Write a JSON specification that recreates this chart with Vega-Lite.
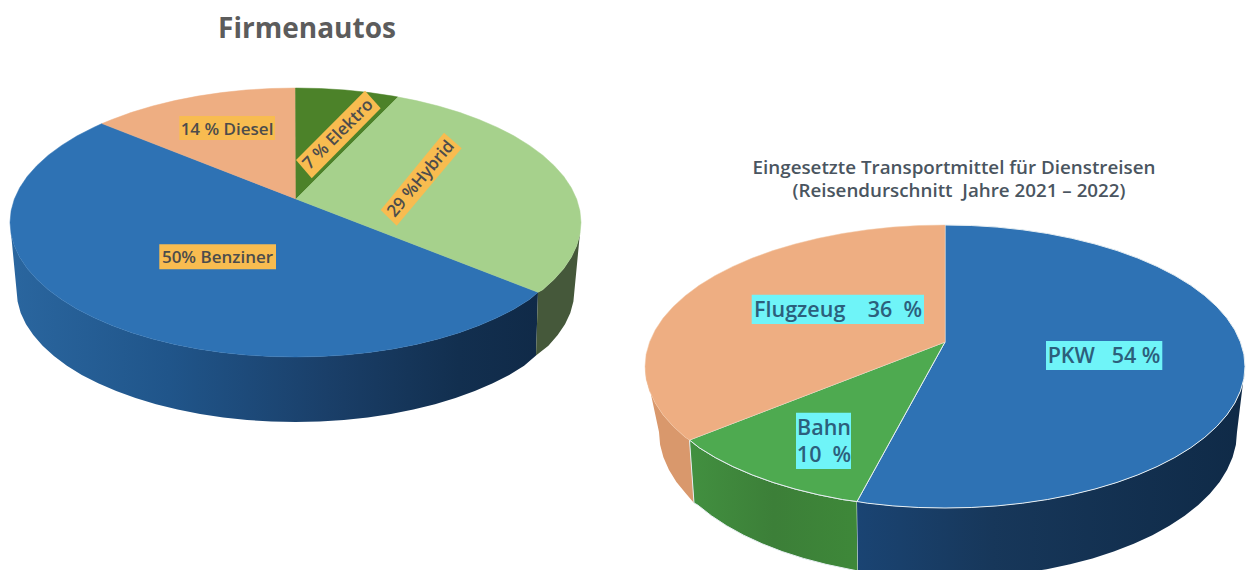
{"$schema":"https://vega.github.io/schema/vega-lite/v6.json","width":1248,"height":570,"padding":0,"autosize":{"type":"fit","contains":"padding"},"background":"white","config":{"view":{"stroke":null}},
"encoding":{"x":{"field":"x","type":"quantitative","scale":{"domain":[0,1248],"nice":false,"zero":false},"axis":null},"y":{"field":"y","type":"quantitative","scale":{"domain":[570,0],"nice":false,"zero":false},"axis":null},"order":{"value":null}},
"layer":[
{"data":{"values":[{"x":538,"y":292.3},{"x":529.4,"y":299.6},{"x":514.2,"y":309},{"x":497.4,"y":317.6},{"x":479,"y":325.5},{"x":459.3,"y":332.7},{"x":438.3,"y":339},{"x":416.2,"y":344.4},{"x":393.1,"y":348.9},{"x":369.4,"y":352.4},{"x":345.1,"y":355},{"x":320.4,"y":356.5},{"x":295.5,"y":357},{"x":270.6,"y":356.5},{"x":245.9,"y":355},{"x":221.6,"y":352.4},{"x":197.9,"y":348.9},{"x":174.8,"y":344.4},{"x":152.7,"y":339},{"x":131.7,"y":332.7},{"x":112,"y":325.5},{"x":93.6,"y":317.6},{"x":76.8,"y":309},{"x":61.6,"y":299.6},{"x":48.3,"y":289.8},{"x":36.8,"y":279.3},{"x":27.2,"y":268.5},{"x":19.7,"y":257.3},{"x":14.3,"y":245.8},{"x":11.1,"y":234.2},{"x":10,"y":222.5},{"x":16.5,"y":290},{"x":17.6,"y":301.5},{"x":20.7,"y":312.9},{"x":26,"y":324.2},{"x":33.3,"y":335.1},{"x":42.6,"y":345.8},{"x":53.9,"y":356},{"x":66.9,"y":365.7},{"x":81.8,"y":374.9},{"x":98.2,"y":383.3},{"x":116.2,"y":391.1},{"x":135.5,"y":398.1},{"x":156,"y":404.3},{"x":177.6,"y":409.6},{"x":200.1,"y":414},{"x":223.3,"y":417.5},{"x":247.1,"y":420},{"x":271.2,"y":421.5},{"x":295.5,"y":422},{"x":319.8,"y":421.5},{"x":343.9,"y":420},{"x":367.7,"y":417.5},{"x":390.9,"y":414},{"x":413.4,"y":409.6},{"x":435,"y":404.3},{"x":455.5,"y":398.1},{"x":474.8,"y":391.1},{"x":492.8,"y":383.3},{"x":509.2,"y":374.9},{"x":524.1,"y":365.7},{"x":536,"y":355.5},{"x":538,"y":292.3}]},
"mark":{"type":"line","clip":true,"strokeWidth":0,"fill":{"gradient":"linear","x1":0,"y1":0,"x2":1,"y2":0,"stops":[{"offset":0,"color":"#2a669f"},{"offset":0.3,"color":"#20558a"},{"offset":0.6,"color":"#1a3f69"},{"offset":0.85,"color":"#122f4f"},{"offset":1,"color":"#102a48"}]}}},
{"data":{"values":[{"x":581,"y":222.5},{"x":579.9,"y":234.2},{"x":576.7,"y":245.8},{"x":571.3,"y":257.3},{"x":563.8,"y":268.5},{"x":554.2,"y":279.3},{"x":542.7,"y":289.8},{"x":538,"y":292.3},{"x":536,"y":355.5},{"x":548.4,"y":345.8},{"x":557.7,"y":335.1},{"x":565,"y":324.2},{"x":570.3,"y":312.9},{"x":573.4,"y":301.5},{"x":574.5,"y":290},{"x":581,"y":222.5}]},
"mark":{"type":"line","clip":true,"strokeWidth":0,"fill":"#45583a"}},
{"data":{"values":[{"x":296,"y":199},{"x":538,"y":292.3},{"x":529.4,"y":299.6},{"x":514.2,"y":309},{"x":497.4,"y":317.6},{"x":479,"y":325.5},{"x":459.3,"y":332.7},{"x":438.3,"y":339},{"x":416.2,"y":344.4},{"x":393.1,"y":348.9},{"x":369.4,"y":352.4},{"x":345.1,"y":355},{"x":320.4,"y":356.5},{"x":295.5,"y":357},{"x":270.6,"y":356.5},{"x":245.9,"y":355},{"x":221.6,"y":352.4},{"x":197.9,"y":348.9},{"x":174.8,"y":344.4},{"x":152.7,"y":339},{"x":131.7,"y":332.7},{"x":112,"y":325.5},{"x":93.6,"y":317.6},{"x":76.8,"y":309},{"x":61.6,"y":299.6},{"x":48.3,"y":289.8},{"x":36.8,"y":279.3},{"x":27.2,"y":268.5},{"x":19.7,"y":257.3},{"x":14.3,"y":245.8},{"x":11.1,"y":234.2},{"x":10,"y":222.5},{"x":11.1,"y":210.8},{"x":14.3,"y":199.2},{"x":19.7,"y":187.7},{"x":27.2,"y":176.5},{"x":36.8,"y":165.7},{"x":48.3,"y":155.2},{"x":61.6,"y":145.4},{"x":76.8,"y":136},{"x":93.6,"y":127.4},{"x":102,"y":123.6},{"x":296,"y":199}]},
"mark":{"type":"line","clip":true,"strokeWidth":0.5,"stroke":"#2e72b4","fill":"#2e72b4"}},
{"data":{"values":[{"x":296,"y":199},{"x":102,"y":123.6},{"x":112,"y":119.5},{"x":131.7,"y":112.3},{"x":152.7,"y":106},{"x":174.8,"y":100.6},{"x":197.9,"y":96.1},{"x":221.6,"y":92.6},{"x":245.9,"y":90},{"x":270.6,"y":88.5},{"x":295.5,"y":88},{"x":296,"y":199}]},
"mark":{"type":"line","clip":true,"strokeWidth":0.5,"stroke":"#eeae82","fill":"#eeae82"}},
{"data":{"values":[{"x":296,"y":199},{"x":295.5,"y":88},{"x":320.4,"y":88.5},{"x":345.1,"y":90},{"x":369.4,"y":92.6},{"x":393.1,"y":96.1},{"x":398,"y":97},{"x":296,"y":199}]},
"mark":{"type":"line","clip":true,"strokeWidth":0.5,"stroke":"#4c8229","fill":"#4c8229"}},
{"data":{"values":[{"x":296,"y":199},{"x":398,"y":97},{"x":416.2,"y":100.6},{"x":438.3,"y":106},{"x":459.3,"y":112.3},{"x":479,"y":119.5},{"x":497.4,"y":127.4},{"x":514.2,"y":136},{"x":529.4,"y":145.4},{"x":542.7,"y":155.2},{"x":554.2,"y":165.7},{"x":563.8,"y":176.5},{"x":571.3,"y":187.7},{"x":576.7,"y":199.2},{"x":579.9,"y":210.8},{"x":581,"y":222.5},{"x":579.9,"y":234.2},{"x":576.7,"y":245.8},{"x":571.3,"y":257.3},{"x":563.8,"y":268.5},{"x":554.2,"y":279.3},{"x":542.7,"y":289.8},{"x":538,"y":292.3},{"x":296,"y":199}]},
"mark":{"type":"line","clip":true,"strokeWidth":0.5,"stroke":"#a6d18c","fill":"#a6d18c"}},
{"data":{"values":[{"x":645,"y":366.5},{"x":646.1,"y":378.8},{"x":649.6,"y":391.1},{"x":655.2,"y":403.1},{"x":663.1,"y":414.9},{"x":673.1,"y":426.3},{"x":685.2,"y":437.3},{"x":689.5,"y":440},{"x":694,"y":503},{"x":686.1,"y":493.7},{"x":676.4,"y":481.9},{"x":668.9,"y":469.8},{"x":663.4,"y":457.3},{"x":660.1,"y":444.7},{"x":659,"y":432},{"x":645,"y":366.5}]},
"mark":{"type":"line","clip":true,"strokeWidth":0,"fill":"#d9986c"}},
{"data":{"values":[{"x":689.5,"y":440},{"x":699.2,"y":447.7},{"x":715.2,"y":457.5},{"x":732.9,"y":466.6},{"x":752.2,"y":474.9},{"x":772.9,"y":482.4},{"x":795,"y":489},{"x":818.2,"y":494.7},{"x":842.4,"y":499.5},{"x":857,"y":501.5},{"x":858,"y":571},{"x":849.2,"y":569.2},{"x":825.9,"y":564.3},{"x":803.5,"y":558.4},{"x":782.2,"y":551.6},{"x":762.2,"y":543.8},{"x":743.6,"y":535.2},{"x":726.6,"y":525.8},{"x":711.3,"y":515.7},{"x":697.7,"y":505},{"x":694,"y":503},{"x":689.5,"y":440}]},
"mark":{"type":"line","clip":true,"strokeWidth":1,"stroke":"#e6eef2","fill":{"gradient":"linear","x1":0,"y1":0,"x2":1,"y2":0,"stops":[{"offset":0,"color":"#429040"},{"offset":0.5,"color":"#3c7f38"},{"offset":1,"color":"#3e8839"}]}}},
{"data":{"values":[{"x":857,"y":501.5},{"x":867.4,"y":503.2},{"x":892.9,"y":505.9},{"x":918.8,"y":507.5},{"x":945,"y":508},{"x":971.2,"y":507.5},{"x":997.1,"y":505.9},{"x":1022.6,"y":503.2},{"x":1047.6,"y":499.5},{"x":1071.8,"y":494.7},{"x":1095,"y":489},{"x":1117.1,"y":482.4},{"x":1137.8,"y":474.9},{"x":1157.1,"y":466.6},{"x":1174.8,"y":457.5},{"x":1190.8,"y":447.7},{"x":1204.8,"y":437.3},{"x":1216.9,"y":426.3},{"x":1226.9,"y":414.9},{"x":1234.8,"y":403.1},{"x":1240.4,"y":391.1},{"x":1243.9,"y":378.8},{"x":1245,"y":366.5},{"x":1237,"y":432},{"x":1235.9,"y":444.7},{"x":1232.6,"y":457.3},{"x":1227.1,"y":469.8},{"x":1219.6,"y":481.9},{"x":1209.9,"y":493.7},{"x":1198.3,"y":505},{"x":1184.7,"y":515.7},{"x":1169.4,"y":525.8},{"x":1152.4,"y":535.2},{"x":1133.8,"y":543.8},{"x":1113.8,"y":551.6},{"x":1092.5,"y":558.4},{"x":1070.1,"y":564.3},{"x":1046.8,"y":569.2},{"x":1022.8,"y":573},{"x":998.2,"y":575.8},{"x":973.2,"y":577.4},{"x":948,"y":578},{"x":922.8,"y":577.4},{"x":897.8,"y":575.8},{"x":873.2,"y":573},{"x":858,"y":571},{"x":857,"y":501.5}]},
"mark":{"type":"line","clip":true,"strokeWidth":0,"fill":{"gradient":"linear","x1":0,"y1":0,"x2":1,"y2":0,"stops":[{"offset":0,"color":"#1a4473"},{"offset":0.35,"color":"#17375a"},{"offset":1,"color":"#0f2a47"}]}}},
{"data":{"values":[{"x":945,"y":342},{"x":945,"y":225},{"x":971.2,"y":225.5},{"x":997.1,"y":227.1},{"x":1022.6,"y":229.8},{"x":1047.6,"y":233.5},{"x":1071.8,"y":238.3},{"x":1095,"y":244},{"x":1117.1,"y":250.6},{"x":1137.8,"y":258.1},{"x":1157.1,"y":266.4},{"x":1174.8,"y":275.5},{"x":1190.8,"y":285.3},{"x":1204.8,"y":295.7},{"x":1216.9,"y":306.7},{"x":1226.9,"y":318.1},{"x":1234.8,"y":329.9},{"x":1240.4,"y":341.9},{"x":1243.9,"y":354.2},{"x":1245,"y":366.5},{"x":1243.9,"y":378.8},{"x":1240.4,"y":391.1},{"x":1234.8,"y":403.1},{"x":1226.9,"y":414.9},{"x":1216.9,"y":426.3},{"x":1204.8,"y":437.3},{"x":1190.8,"y":447.7},{"x":1174.8,"y":457.5},{"x":1157.1,"y":466.6},{"x":1137.8,"y":474.9},{"x":1117.1,"y":482.4},{"x":1095,"y":489},{"x":1071.8,"y":494.7},{"x":1047.6,"y":499.5},{"x":1022.6,"y":503.2},{"x":997.1,"y":505.9},{"x":971.2,"y":507.5},{"x":945,"y":508},{"x":918.8,"y":507.5},{"x":892.9,"y":505.9},{"x":867.4,"y":503.2},{"x":857,"y":501.5},{"x":945,"y":342}]},
"mark":{"type":"line","clip":true,"strokeWidth":1,"stroke":"#e6eef2","fill":"#2e72b4"}},
{"data":{"values":[{"x":945,"y":342},{"x":857,"y":501.5},{"x":842.4,"y":499.5},{"x":818.2,"y":494.7},{"x":795,"y":489},{"x":772.9,"y":482.4},{"x":752.2,"y":474.9},{"x":732.9,"y":466.6},{"x":715.2,"y":457.5},{"x":699.2,"y":447.7},{"x":689.5,"y":440},{"x":945,"y":342}]},
"mark":{"type":"line","clip":true,"strokeWidth":1,"stroke":"#e6eef2","fill":"#4eaa50"}},
{"data":{"values":[{"x":945,"y":342},{"x":689.5,"y":440},{"x":685.2,"y":437.3},{"x":673.1,"y":426.3},{"x":663.1,"y":414.9},{"x":655.2,"y":403.1},{"x":649.6,"y":391.1},{"x":646.1,"y":378.8},{"x":645,"y":366.5},{"x":646.1,"y":354.2},{"x":649.6,"y":341.9},{"x":655.2,"y":329.9},{"x":663.1,"y":318.1},{"x":673.1,"y":306.7},{"x":685.2,"y":295.7},{"x":699.2,"y":285.3},{"x":715.2,"y":275.5},{"x":732.9,"y":266.4},{"x":752.2,"y":258.1},{"x":772.9,"y":250.6},{"x":795,"y":244},{"x":818.2,"y":238.3},{"x":842.4,"y":233.5},{"x":867.4,"y":229.8},{"x":892.9,"y":227.1},{"x":918.8,"y":225.5},{"x":945,"y":225},{"x":945,"y":342}]},
"mark":{"type":"line","clip":true,"strokeWidth":0.5,"stroke":"#f3c8a6","fill":"#eeae82"}},
{"data":{"values":[{"x":365,"y":90.7},{"x":380.7,"y":108.3},{"x":311.7,"y":178.3},{"x":296,"y":160},{"x":365,"y":90.7}]},
"mark":{"type":"line","strokeWidth":0,"fill":"#f8bc50"}},
{"data":{"values":[{"x":444,"y":132.7},{"x":461.7,"y":148.3},{"x":396.7,"y":225.7},{"x":380.7,"y":210},{"x":444,"y":132.7}]},
"mark":{"type":"line","strokeWidth":0,"fill":"#f8bc50"}},
{"data":{"values":[{"x":179.3,"x2":275,"y":116,"y2":140},{"x":159.3,"x2":276,"y":244.3,"y2":269.3}]},
"mark":{"type":"rect","fill":"#f8bc50"},"encoding":{"x2":{"field":"x2"},"y2":{"field":"y2"},"order":null}},
{"data":{"values":[{"x":751.7,"x2":924,"y":294.7,"y2":324},{"x":1046,"x2":1162.3,"y":341,"y2":370},{"x":796,"x2":851,"y":412.7,"y2":469}]},
"mark":{"type":"rect","fill":"#6ff4f8"},"encoding":{"x2":{"field":"x2"},"y2":{"field":"y2"},"order":null}},
{"data":{"values":[{"x":227,"y":129.5,"label":"14 % Diesel"},{"x":217.5,"y":257.5,"label":"50% Benziner"}]},
"mark":{"type":"text","font":"Open Sans","fontSize":17,"fontWeight":600,"color":"#4c4c4c"},"encoding":{"text":{"field":"label"},"order":null}},
{"data":{"values":[{"x":338.3,"y":134.5,"label":"7 % Elektro"}]},
"mark":{"type":"text","font":"Open Sans","fontSize":17,"fontWeight":600,"color":"#4c4c4c","angle":-45},"encoding":{"text":{"field":"label"},"order":null}},
{"data":{"values":[{"x":421,"y":179,"label":"29 %Hybrid"}]},
"mark":{"type":"text","font":"Open Sans","fontSize":17,"fontWeight":600,"color":"#4c4c4c","angle":-50},"encoding":{"text":{"field":"label"},"order":null}},
{"data":{"values":[{"x":838,"y":310.5,"label":"Flugzeug\u00a0\u00a0\u00a0\u00a036\u00a0\u00a0%"},{"x":1104,"y":357,"label":"PKW\u00a0\u00a0\u00a054 %"},{"x":824,"y":428.5,"label":"Bahn"},{"x":824,"y":455.5,"label":"10\u00a0\u00a0%"}]},
"mark":{"type":"text","font":"Open Sans","fontSize":21.5,"fontWeight":600,"color":"#2c5f7c"},"encoding":{"text":{"field":"label"},"order":null}},
{"data":{"values":[{"x":307,"y":30,"label":"Firmenautos"}]},
"mark":{"type":"text","font":"Open Sans","fontSize":28,"fontWeight":700,"color":"#5c5c5c"},"encoding":{"text":{"field":"label"},"order":null}},
{"data":{"values":[{"x":954,"y":167.5,"label":"Eingesetzte Transportmittel für Dienstreisen"},{"x":959,"y":190.5,"label":"(Reisendurschnitt\u00a0\u00a0Jahre 2021 – 2022)"}]},
"mark":{"type":"text","font":"Open Sans","fontSize":18.8,"fontWeight":600,"color":"#4a5560"},"encoding":{"text":{"field":"label"},"order":null}}
]}
